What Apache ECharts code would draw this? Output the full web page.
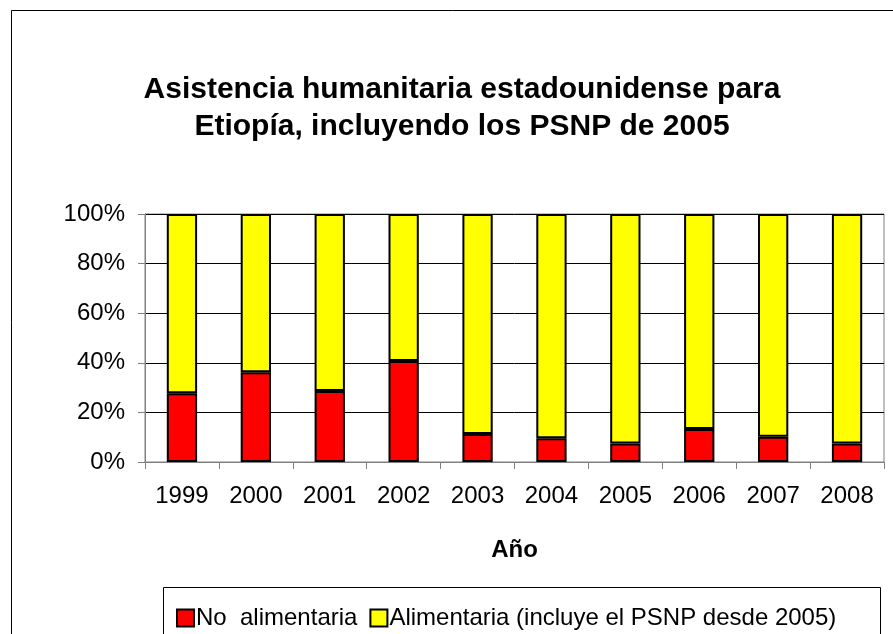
<!DOCTYPE html>
<html>
<head>
<meta charset="utf-8">
<script src="https://cdn.jsdelivr.net/npm/echarts@6/dist/echarts.min.js"></script>
<style>html,body{margin:0;padding:0;background:#fff}#c{width:893px;height:634px}</style>
</head>
<body>
<div id="c"></div>
<script>
var years = ['1999','2000','2001','2002','2003','2004','2005','2006','2007','2008'];
var noAlimentaria = [27.7, 36.2, 28.6, 40.7, 11.3, 9.6, 7.5, 13.3, 10.2, 7.5];
var alimentaria = [72.3, 63.8, 71.4, 59.3, 88.7, 90.4, 92.5, 86.7, 89.8, 92.5];
var yTicks = [0, 20, 40, 60, 80, 100];
var seriesNames = ['No  alimentaria', 'Alimentaria (incluye el PSNP desde 2005)'];

var chart = echarts.init(document.getElementById('c'), null, {renderer: 'canvas'});
var font = 'Liberation Sans, Arial, sans-serif';
chart.setOption({
  animation: false,
  backgroundColor: '#fff',
  title: {
    text: 'Asistencia humanitaria estadounidense para\nEtiopía, incluyendo los PSNP de 2005',
    left: 457, textAlign: 'center', top: 66,
    textStyle: {fontFamily: font, fontSize: 30, fontWeight: 'bold', color: '#000', lineHeight: 37}
  },
  graphic: [
    {type: 'rect', shape: {x: 11.5, y: 10.5, width: 900, height: 700}, style: {fill: 'none', stroke: '#000', lineWidth: 1}, z: -1},
    {type: 'rect', shape: {x: 163.5, y: 587.5, width: 717, height: 80}, style: {fill: '#fff', stroke: '#000', lineWidth: 1}, z: 0}
  ],
  legend: {
    left: 171, top: 601, itemGap: 12, itemWidth: 17, itemHeight: 17,
    icon: 'rect',
    textStyle: {fontFamily: font, fontSize: 24, color: '#000', padding: [0,0,0,-3]},
    data: seriesNames.map(function(n){return {name: n, itemStyle: {borderColor: '#000', borderWidth: 2}};}),
    z: 5
  },
  grid: {left: 145, right: 9, top: 214, bottom: 172, show: true, borderColor: '#808080', borderWidth: 1, backgroundColor: '#fff'},
  xAxis: {
    type: 'category', data: years,
    name: 'Año', nameLocation: 'middle', nameGap: 76,
    nameTextStyle: {fontFamily: font, fontSize: 24, fontWeight: 'bold', color: '#000'},
    axisLine: {lineStyle: {color: '#808080', width: 1}},
    axisTick: {show: true, length: 7, lineStyle: {color: '#808080'}},
    axisLabel: {fontFamily: font, fontSize: 24, color: '#000', margin: 22}
  },
  yAxis: {
    type: 'value', min: 0, max: 100, interval: 20,
    axisLine: {show: true, lineStyle: {color: '#808080', width: 1}},
    axisTick: {show: true, length: 7, lineStyle: {color: '#808080'}},
    splitLine: {lineStyle: {color: '#000', width: 1}},
    axisLabel: {fontFamily: font, fontSize: 24, color: '#000', margin: 20, formatter: function(v){return yTicks.indexOf(v) >= 0 ? v + '%' : '';}}
  },
  series: [
    {name: seriesNames[0], type: 'bar', stack: 's', data: noAlimentaria, barWidth: '41%',
     itemStyle: {color: '#ff0000', borderColor: '#000', borderWidth: 2}},
    {name: seriesNames[1], type: 'bar', stack: 's', data: alimentaria, barWidth: '41%',
     itemStyle: {color: '#ffff00', borderColor: '#000', borderWidth: 2}}
  ]
});
</script>
</body>
</html>
